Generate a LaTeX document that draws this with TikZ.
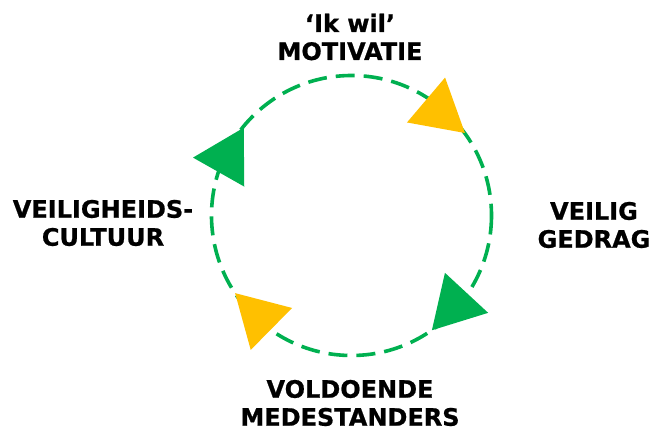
\documentclass[tikz,border=0pt]{standalone}
\usepackage{fontspec}
\setmainfont{DejaVu Sans}[BoldFeatures={FakeBold=0.8}]
\usepackage{tikz}
\definecolor{cyclegreen}{RGB}{0,176,80}
\definecolor{cycleyellow}{RGB}{255,192,0}

\begin{document}
\begin{tikzpicture}[x=1pt,y=-1pt,
  ring/.style={draw=cyclegreen, line width=3.6pt, dash pattern=on 19pt off 9pt},
  lbl/.style={align=center, inner sep=0pt, font=\fontsize{24}{28}\selectfont\bfseries},
]
\useasboundingbox (0,0) rectangle (649,431);
% ---------- dashed cycle ----------
\coordinate (C) at (351.5,215.5);
\draw[ring] (C) circle (140);
% ---------- arrow heads (centres) ----------
\coordinate (tipM) at (439,111);
\coordinate (tipG) at (455,305.3);
\coordinate (tipV) at (259.3,317);
\coordinate (tipC) at (227,157.3);
\fill[cycleyellow, shift={(tipM)}] (-79.7:34)  -- (160.3:34) -- (40.3:34)  -- cycle;
\fill[cyclegreen,  shift={(tipG)}] (-107.2:34) -- (132.8:34) -- (12.8:34)  -- cycle;
\fill[cycleyellow, shift={(tipV)}] (-135.4:34) -- (104.6:34) -- (-15.4:34) -- cycle;
\fill[cyclegreen,  shift={(tipC)}] (-60.5:34)  -- (179.5:34) -- (59.5:34)  -- cycle;
% ---------- labels ----------
\node[lbl] (MOT)  at (350,37)  {‘Ik wil’\\MOTIVATIE};
\node[lbl] (GED)  at (594,225) {VEILIG\\GEDRAG};
\node[lbl] (MED)  at (350,403) {VOLDOENDE\\MEDESTANDERS};
\node[lbl] (CULT) at (103,223) {VEILIGHEIDS-\\CULTUUR};
\end{tikzpicture}
\end{document}
